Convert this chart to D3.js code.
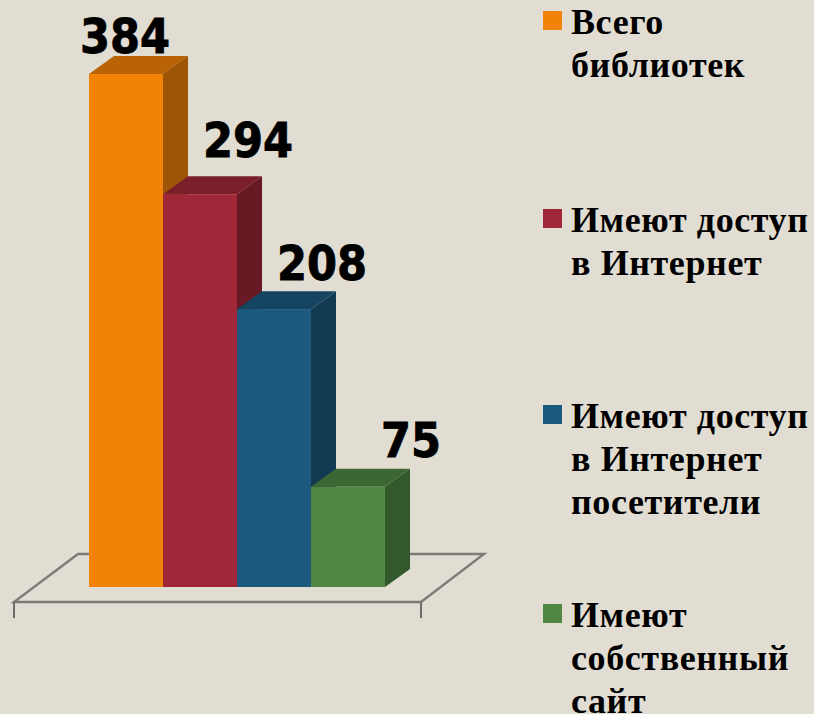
<!DOCTYPE html>
<html><head><meta charset="utf-8">
<script src="https://cdn.jsdelivr.net/npm/d3@7"></script>
<style>html,body{margin:0;padding:0;background:#e2ddd2;overflow:hidden}svg{display:block}</style>
</head><body><svg id="c" width="814" height="714"></svg>
<script>
const categories=["Всего библиотек","Имеют доступ в Интернет","Имеют доступ в Интернет посетители","Имеют собственный сайт"];
const values=[384,294,208,75];
const colors=["#f28208","#9f2737","#1b597e","#4f8743"];
const legendLines=[["Всего","библиотек"],["Имеют доступ","в Интернет"],["Имеют доступ","в Интернет","посетители"],["Имеют","собственный","сайт"]];
const legendY=[11,209,405,604];
const svg=d3.select("#c");
const x=d3.scaleBand().domain(categories).range([89,385]).padding(0);
const y=d3.scaleLinear().domain([0,384]).range([587,74]);
const dx=25,dy=-18;
const floor=[[14,602],[421,602],[484,554],[78,554]];
svg.append("path").attr("d",d3.line()(floor)+"Z").attr("fill","none").attr("stroke","#7f7c77").attr("stroke-width",2.4);
[14,421].forEach(t=>svg.append("line").attr("x1",t).attr("x2",t).attr("y1",602).attr("y2",618).attr("stroke","#6e6c68").attr("stroke-width",2));
const poly=p=>d3.line()(p)+"Z";
const g=svg.selectAll("g.bar").data(categories).join("g").attr("class","bar");
g.each(function(c,i){
  const s=d3.select(this),l=x(c),r=l+x.bandwidth(),t=y(values[i]),b=y(0),col=d3.color(colors[i]);
  s.append("path").attr("d",poly([[l,t],[r,t],[r+dx,t+dy],[l+dx,t+dy]])).attr("fill",col.darker(0.75));
  s.append("path").attr("d",poly([[r,t],[r+dx,t+dy],[r+dx,b+dy],[r,b]])).attr("fill",col.darker(1.2));
  s.append("rect").attr("x",l).attr("y",t).attr("width",x.bandwidth()).attr("height",b-t).attr("fill",colors[i]);
});
const labelDx=[-1,48,48,63], labelDy=[-21.5,-37.5,-29.5,-29.5];
svg.selectAll("text.val").data(categories).join("text").attr("class","val")
  .attr("x",(c,i)=>x(c)+x.bandwidth()/2+labelDx[i]).attr("y",(c,i)=>y(values[i])+labelDy[i])
  .attr("text-anchor","middle").attr("font-family","'DejaVu Sans'").attr("font-weight",700).attr("font-size",48).attr("fill","#000")
  .attr("stroke","#000").attr("stroke-width",0.9)
  .attr("textLength",(c,i)=>String(values[i]).length*30).attr("lengthAdjust","spacingAndGlyphs")
  .text((c,i)=>values[i]);
const lg=svg.selectAll("g.lg").data(categories).join("g").attr("class","lg");
lg.append("rect").attr("x",543).attr("y",(c,i)=>legendY[i]).attr("width",19).attr("height",19).attr("fill",(c,i)=>colors[i]);
lg.each(function(c,i){
  d3.select(this).selectAll("text").data(legendLines[i]).join("text")
   .attr("x",571).attr("y",(d,j)=>legendY[i]+23+j*43)
   .attr("font-family","'Liberation Serif'").attr("font-weight",700).attr("font-size",36).attr("letter-spacing",0.6).attr("fill","#000").text(d=>d);
});
</script></body></html>
